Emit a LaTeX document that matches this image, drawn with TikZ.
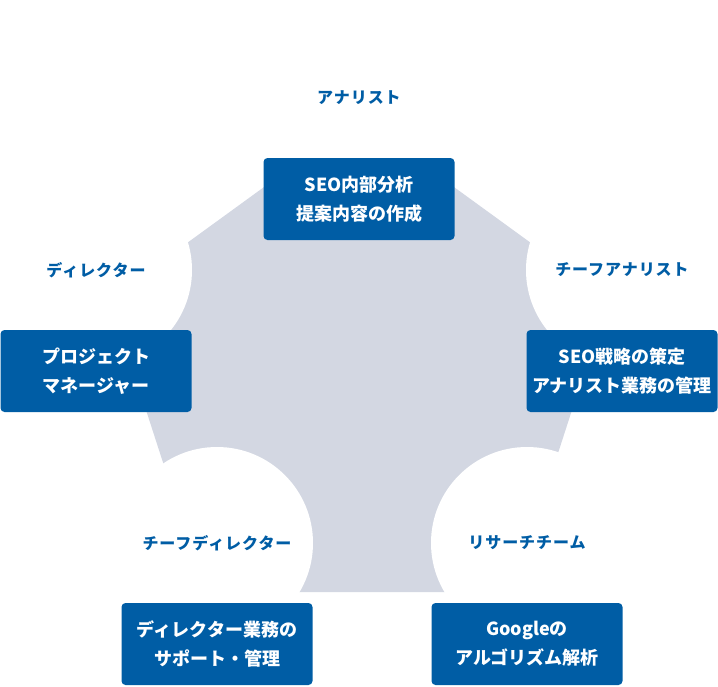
\documentclass[tikz,border=0pt]{standalone}
\usepackage{fontspec}
\setmainfont{Noto Sans CJK JP}
\newfontfamily\rolefont{Noto Sans CJK JP}[LetterSpace=6]
\usetikzlibrary{positioning}
\definecolor{seoblue}{HTML}{005DA5}
\definecolor{seogrey}{HTML}{D3D7E2}

\begin{document}
\begin{tikzpicture}[x=1pt,y=-1pt,node distance=101pt]
  \tikzstyle{role}=[text=seoblue,font=\rolefont\bfseries\fontsize{16}{20}\selectfont]
  \tikzstyle{task}=[fill=seoblue,text=white,rounded corners=4pt,
    minimum width=191pt,minimum height=82pt,align=center,
    font=\bfseries\fontsize{18}{29}\selectfont]

  \useasboundingbox (0,0) rectangle (718,686);

  \coordinate (ana) at (359,98);
  \coordinate (chiefana) at (622,270);
  \coordinate (research) at (527,543);
  \coordinate (chiefdir) at (217,543);
  \coordinate (dir) at (96,270);

  \fill[seogrey] (359,118) -- (608,299) -- (513,592) -- (205,592) -- (110,299) -- cycle;
  \foreach \c in {ana,chiefana,research,chiefdir,dir}
    \fill[white] (\c) circle (96pt);

  \node[role] (anarole) at (ana) {アナリスト};
  \node[role] (chiefanarole) at (chiefana) {チーフアナリスト};
  \node[role] (researchrole) at (research) {リサーチチーム};
  \node[role] (chiefdirrole) at (chiefdir) {チーフディレクター};
  \node[role] (dirrole) at (dir) {ディレクター};

  \node[task] (anatask) [below of=anarole] {SEO内部分析\\提案内容の作成};
  \node[task] (chiefanatask) [below of=chiefanarole] {SEO戦略の策定\\アナリスト業務の管理};
  \node[task] (researchtask) [below of=researchrole] {Googleの\\アルゴリズム解析};
  \node[task] (chiefdirtask) [below of=chiefdirrole] {ディレクター業務の\\サポート・管理};
  \node[task] (dirtask) [below of=dirrole] {プロジェクト\\マネージャー};
\end{tikzpicture}
\end{document}
